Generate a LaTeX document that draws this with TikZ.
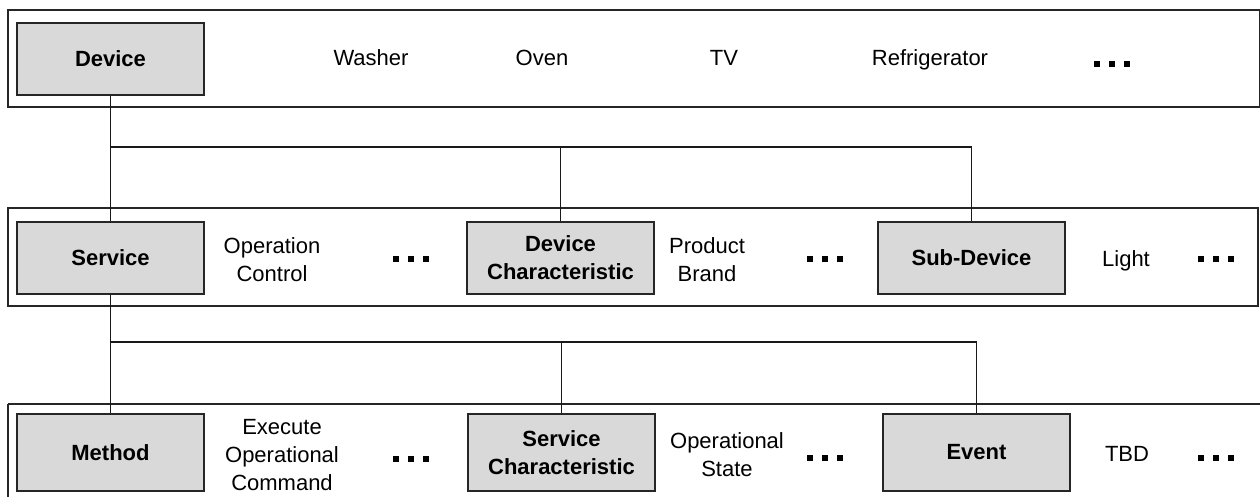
\documentclass[tikz,border=0pt]{standalone}
\usepackage{fontspec}
\setmainfont{Liberation Sans}
\begin{document}
\begin{tikzpicture}[x=1pt,y=-1pt,
  band/.style={draw=black!85,line width=1.2pt},
  cbox/.style={draw=black!85,line width=1.2pt,fill=black!15,minimum width=187pt,inner sep=0pt,align=center,font=\fontsize{22}{28}\selectfont\bfseries},
  lbl/.style={inner sep=0pt,align=center,font=\fontsize{22}{28}\selectfont},
  conn/.style={draw=black!90,line width=1.1pt},
  ell/.pic={\foreach \dx in {-15,0,15} \fill (\dx-3.2,-3.2) rectangle (\dx+3.2,3.2);}
]
\useasboundingbox (0,0) rectangle (1260,497);
% bands
\draw[band] (8,10) rectangle (1259.5,107);
\draw[band] (8,208) rectangle (1258,306);
\draw[band] (8,404) -- (1265,404) (8,404) -- (8,505);
% boxes
\node[cbox,minimum height=72pt] (device) at (110.5,59) {Device};
\node[cbox,minimum height=72pt] (service) at (110.5,258) {Service};
\node[cbox,minimum height=72pt] (devchar) at (560.5,258) {Device\\Characteristic};
\node[cbox,minimum height=72pt] (subdev) at (971.5,258) {Sub-Device};
\node[cbox,minimum height=77pt] (method) at (110.5,452.5) {Method};
\node[cbox,minimum height=77pt] (servchar) at (561.5,452.5) {Service\\Characteristic};
\node[cbox,minimum height=77pt] (event) at (976.5,452.5) {Event};
% labels top
\node[lbl,anchor=base] (washer) at (371,66) {Washer};
\node[lbl,anchor=base] (oven) at (542,66) {Oven};
\node[lbl,anchor=base] (tv) at (724,66) {TV};
\node[lbl,anchor=base] (fridge) at (930,66) {Refrigerator};
\pic at (1112,64) {ell};
% labels middle
\node[lbl] (opctrl) at (272,260) {Operation\\Control};
\pic at (411,259) {ell};
\node[lbl] (brand) at (707,260) {Product\\Brand};
\pic at (825,259) {ell};
\node[lbl,anchor=base] (light) at (1126,266) {Light};
\pic at (1216,259) {ell};
% labels bottom
\node[lbl] (exec) at (282,455) {Execute\\Operational\\Command};
\pic at (411,459) {ell};
\node[lbl] (state) at (727,455) {Operational\\State};
\pic at (825,458) {ell};
\node[lbl,anchor=base] (tbd) at (1127,461) {TBD};
\pic at (1216,458) {ell};
% connectors
\coordinate (j1) at (110.5,147);
\coordinate (j2) at (110.5,342);
\draw[conn] (device.south) -- (service.north);
\draw[conn] (j1) -| (subdev.north);
\draw[conn] (devchar.north) -- (devchar.north |- j1);
\draw[conn] (service.south) -- (method.north);
\draw[conn] (j2) -| (event.north);
\draw[conn] (servchar.north) -- (servchar.north |- j2);
\end{tikzpicture}
\end{document}
